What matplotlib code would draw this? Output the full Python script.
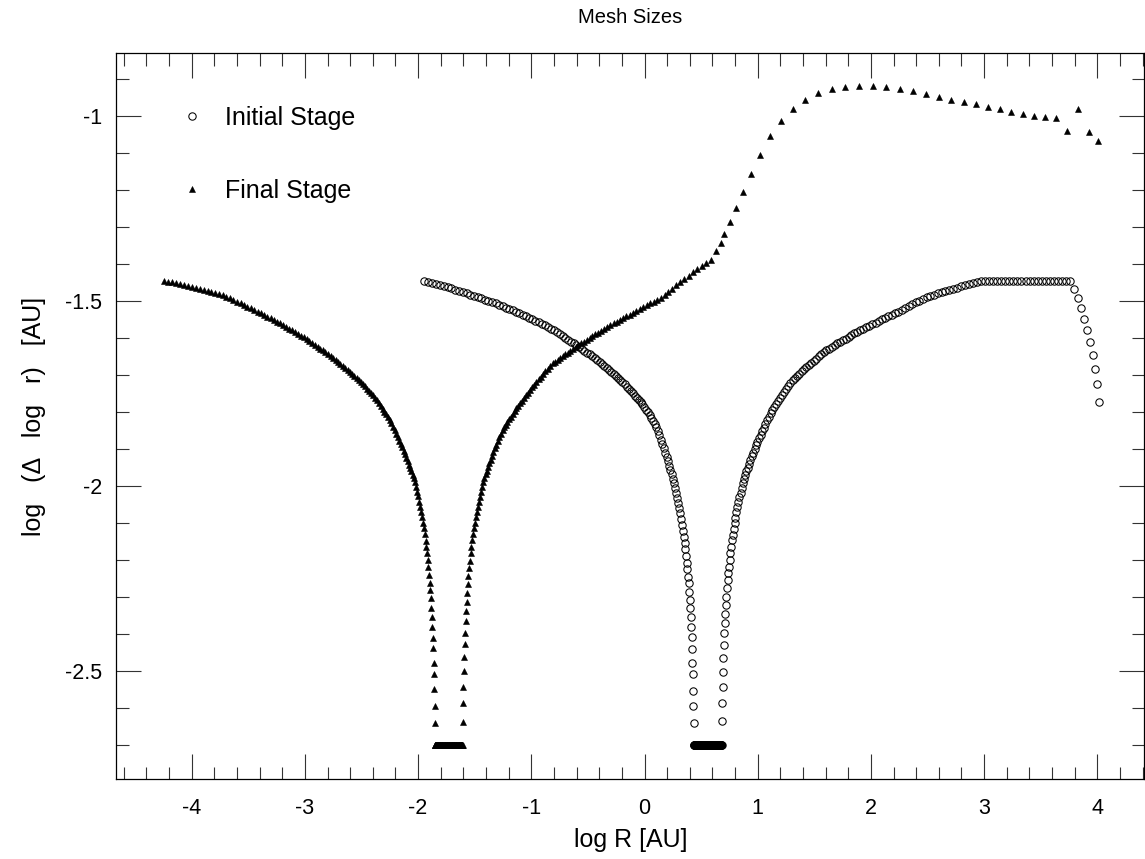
import numpy as np
import matplotlib
matplotlib.use("Agg")
import matplotlib.pyplot as plt
from matplotlib.ticker import MultipleLocator, FuncFormatter

plt.rcParams["font.family"] = ["Liberation Sans", "DejaVu Sans"]
plt.rcParams["axes.unicode_minus"] = False

# Mesh spacing log(delta log r) for every grid point; the radius of a point is
# the radius of the previous one plus 10**spacing.
init_x0 = -1.95
init_left = [
    -1.445,
    -1.448, -1.451, -1.454, -1.457, -1.460, -1.463,
    -1.466, -1.470, -1.473, -1.477, -1.480, -1.483, -1.487, -1.490, -1.493,
    -1.497, -1.500, -1.504, -1.507, -1.511, -1.515, -1.518, -1.522, -1.525, -1.529,
    -1.534, -1.538, -1.542, -1.546, -1.550, -1.554, -1.558, -1.562, -1.566, -1.570,
    -1.575, -1.580, -1.585, -1.590, -1.595, -1.600, -1.605, -1.610, -1.615,
    -1.620, -1.625, -1.630, -1.635, -1.640, -1.645, -1.650, -1.655, -1.660,
    -1.665, -1.671, -1.676, -1.682, -1.687, -1.692, -1.698, -1.703, -1.709, -1.714,
    -1.720, -1.726, -1.732, -1.738, -1.744, -1.750, -1.756, -1.762, -1.768, -1.774,
    -1.780, -1.786,
    -1.794, -1.801, -1.809, -1.817, -1.825, -1.832, -1.840,
    -1.852, -1.864, -1.875, -1.887, -1.899, -1.911, -1.922, -1.934, -1.946, -1.958,
    -1.969, -1.981, -1.993,
    -2.007, -2.020, -2.034, -2.047, -2.061, -2.074, -2.091, -2.106, -2.121, -2.138,
    -2.156, -2.172, -2.190, -2.208, -2.226, -2.246, -2.264, -2.287, -2.309, -2.331,
    -2.356, -2.381, -2.408, -2.442, -2.478, -2.509, -2.554, -2.595, -2.641,
]
init_floor = [-2.70] * 124
init_right = [
    -2.637, -2.588, -2.545, -2.504, -2.467, -2.430, -2.399, -2.372, -2.347, -2.322,
    -2.300, -2.277, -2.255, -2.237, -2.219, -2.201, -2.183, -2.165, -2.148, -2.133,
    -2.118, -2.101, -2.086, -2.072, -2.058, -2.045, -2.031, -2.019, -2.005, -1.992,
    -1.982, -1.972, -1.961, -1.951, -1.940, -1.930,
    -1.920, -1.911, -1.901, -1.891, -1.882, -1.872, -1.862, -1.852, -1.843, -1.833,
    -1.823, -1.814, -1.804,
    -1.796, -1.788, -1.779, -1.771, -1.763, -1.755, -1.747, -1.739, -1.730, -1.722, -1.714,
    -1.708, -1.702, -1.697, -1.691, -1.685, -1.679, -1.673, -1.668, -1.662, -1.656,
    -1.650, -1.645, -1.639, -1.633,
    -1.629, -1.624, -1.620, -1.615, -1.611, -1.606, -1.602, -1.597, -1.592, -1.588,
    -1.583, -1.579,
    -1.575, -1.571, -1.567, -1.563, -1.559, -1.555, -1.550, -1.546, -1.542, -1.538, -1.534,
    -1.529, -1.524, -1.519, -1.514, -1.509, -1.504, -1.499, -1.494, -1.489,
    -1.486, -1.483, -1.480, -1.477, -1.474, -1.471, -1.468, -1.464, -1.461, -1.458,
    -1.455, -1.452, -1.449, -1.446,
]
init_flat = [-1.445] * 22
init_tail = [-1.468, -1.493, -1.520, -1.548, -1.578, -1.610, -1.646, -1.683, -1.726, -1.773]

final_x0 = -4.241
final_left = [
    -1.445,
    -1.448, -1.450, -1.453, -1.455, -1.458, -1.461, -1.463, -1.466, -1.469, -1.471,
    -1.474, -1.476, -1.479, -1.481, -1.484,
    -1.489, -1.493, -1.498, -1.502, -1.507, -1.511, -1.516, -1.520, -1.525, -1.529,
    -1.534, -1.538, -1.543, -1.547, -1.552, -1.556, -1.561, -1.565, -1.570,
    -1.575, -1.580, -1.585, -1.590, -1.594, -1.599, -1.604, -1.609, -1.614, -1.619,
    -1.624, -1.629, -1.634, -1.639, -1.644, -1.649, -1.654, -1.659, -1.664,
    -1.670, -1.675, -1.681, -1.686, -1.692, -1.698, -1.703, -1.709, -1.715, -1.720,
    -1.726, -1.731, -1.737, -1.743, -1.748, -1.754,
    -1.762, -1.769, -1.777, -1.784, -1.792, -1.800, -1.807, -1.815, -1.822,
    -1.831, -1.840, -1.850, -1.859, -1.868, -1.878, -1.887, -1.896, -1.905, -1.915,
    -1.924, -1.933, -1.943, -1.952, -1.961, -1.970, -1.980, -1.989,
    -2.002, -2.016, -2.029, -2.043, -2.057, -2.070, -2.085, -2.100, -2.115, -2.131,
    -2.149, -2.165, -2.183, -2.200, -2.221, -2.241, -2.262, -2.282, -2.304, -2.330,
    -2.355, -2.381, -2.412, -2.439, -2.478, -2.509, -2.549, -2.596, -2.641,
]
final_floor = [-2.70] * 123
final_right = [
    -2.640, -2.588, -2.544, -2.501, -2.462, -2.429, -2.398, -2.366, -2.339, -2.314,
    -2.289, -2.266, -2.243, -2.222, -2.203, -2.183, -2.165, -2.147, -2.131, -2.115,
    -2.100, -2.085, -2.071, -2.058, -2.045, -2.031, -2.018, -2.004, -1.989,
    -1.979, -1.969, -1.959, -1.949, -1.939, -1.929, -1.919, -1.909, -1.899, -1.889,
    -1.879, -1.869, -1.859, -1.849,
    -1.842, -1.835, -1.827, -1.820, -1.813, -1.806, -1.799, -1.791, -1.784, -1.777,
    -1.770, -1.763, -1.755, -1.748, -1.741,
    -1.734, -1.727, -1.719, -1.712, -1.705, -1.698, -1.691, -1.683, -1.676, -1.669,
    -1.664, -1.659, -1.654, -1.649, -1.644, -1.640, -1.635, -1.630, -1.625, -1.620, -1.615,
    -1.610, -1.605, -1.600, -1.595, -1.590, -1.586, -1.581, -1.576, -1.571, -1.566, -1.561,
    -1.556, -1.551, -1.546, -1.541, -1.537, -1.532, -1.527, -1.522, -1.517, -1.512,
    -1.507, -1.503, -1.498, -1.493,
    -1.484, -1.475, -1.467, -1.458, -1.449, -1.441, -1.432, -1.423, -1.415, -1.406,
    -1.397, -1.389,
    -1.366, -1.343,
]
# outer, coarse part of the final grid
final_outer_x0 = 0.702
final_outer = [
    -1.319, -1.287, -1.248, -1.205, -1.156, -1.105, -1.055, -1.014, -0.980, -0.956,
    -0.938, -0.928, -0.921, -0.918, -0.918, -0.921, -0.927, -0.932, -0.941, -0.948,
    -0.956, -0.963, -0.968, -0.975, -0.982, -0.989, -0.995, -0.999, -1.003, -1.005,
    -1.040, -0.982, -1.044, -1.068,
]


def mesh(x0, dlog):
    dlog = np.asarray(dlog, dtype=float)
    steps = np.concatenate([[0.0], 10.0 ** dlog[1:]])
    return x0 + np.cumsum(steps), dlog


init_dlog = init_left + init_floor + init_right + init_flat + init_tail
xi, yi = mesh(init_x0, init_dlog)

xf1, yf1 = mesh(final_x0, final_left + final_floor + final_right)
xf2, yf2 = mesh(final_outer_x0, final_outer)
xf = np.concatenate([xf1, xf2])
yf = np.concatenate([yf1, yf2])

fig = plt.figure(figsize=(11.45, 8.59), dpi=100)
ax = fig.add_axes([116.3 / 1145, 1 - 779 / 859, (1144.3 - 116.3) / 1145, (779 - 53.3) / 859])

ax.plot(xi, yi, linestyle="none", marker="o", ms=5.3, mfc="none", mec="black",
        mew=0.75, label="Initial Stage")
ax.plot(xf, yf, linestyle="none", marker="^", ms=4.6, mfc="black", mec="black",
        mew=0.4, label="Final Stage")

ax.set_xlim(-4.666, 4.415)
ax.set_ylim(-2.793, -0.8305)

ax.xaxis.set_major_locator(MultipleLocator(1))
ax.xaxis.set_minor_locator(MultipleLocator(0.2))
ax.yaxis.set_major_locator(MultipleLocator(0.5))
ax.yaxis.set_minor_locator(MultipleLocator(0.1))
fmt = FuncFormatter(lambda v, p: "%g" % round(v, 3))
ax.xaxis.set_major_formatter(fmt)
ax.yaxis.set_major_formatter(fmt)

ax.tick_params(which="both", direction="in", top=True, right=True, width=0.8,
               color="#333333", labelsize=15.5)
ax.tick_params(which="major", length=18)
ax.tick_params(which="minor", length=9)
ax.tick_params(axis="x", pad=14)
ax.tick_params(axis="y", pad=10)
for s in ax.spines.values():
    s.set_linewidth(0.9)

ax.set_xlabel("log R [AU]", fontsize=18, labelpad=6)
ax.set_ylabel("log   (\u0394   log   r)   [AU]", fontsize=18, labelpad=14)
ax.set_title("Mesh Sizes", fontsize=14.5, pad=22)

ax.legend(loc="upper left", bbox_to_anchor=(179 / 1145, 1 - 106 / 859),
          bbox_transform=fig.transFigure, frameon=False, fontsize=18,
          handlelength=1.0, handletextpad=0.85, labelspacing=1.95,
          borderpad=0, borderaxespad=0, markerscale=1.0)

fig.savefig("out.png", dpi=100)
